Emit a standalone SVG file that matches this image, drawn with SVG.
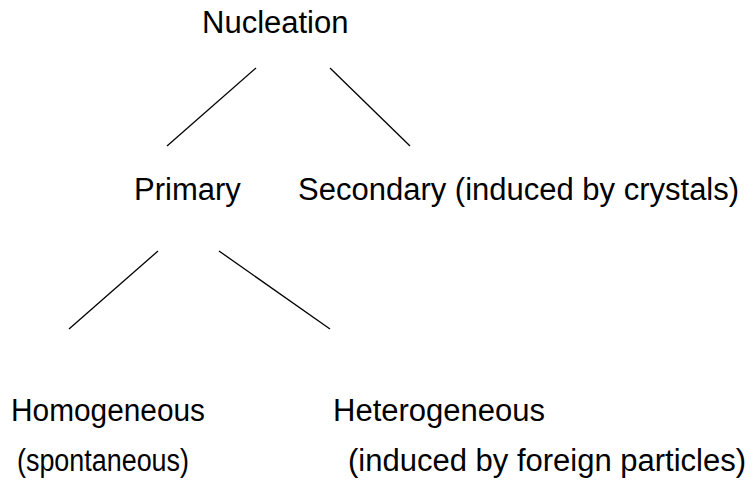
<svg xmlns="http://www.w3.org/2000/svg" width="755" height="482" viewBox="0 0 755 482">
<style>
text{font-family:"Liberation Sans",Arial,sans-serif;font-size:31px;fill:#000}
.c line{stroke:#000;stroke-width:1.3;fill:none}
</style>
<rect width="755" height="482" fill="#fff"/>
<g class="c" id="connectors">
<line x1="256" y1="68" x2="167" y2="146"/>
<line x1="330" y1="68" x2="410" y2="146"/>
<line x1="158" y1="251" x2="69" y2="329"/>
<line x1="219" y1="251" x2="330" y2="329"/>
</g>
<g id="nucleation"><text x="202" y="33">Nucleation</text></g>
<g id="primary"><text x="134" y="200">Primary</text></g>
<g id="secondary"><text x="298" y="200">Secondary (induced by crystals)</text></g>
<g id="homogeneous"><text x="11" y="421" textLength="194" lengthAdjust="spacingAndGlyphs">Homogeneous</text><text x="17" y="471" textLength="172" lengthAdjust="spacingAndGlyphs">(spontaneous)</text></g>
<g id="heterogeneous"><text x="333" y="421">Heterogeneous</text><text x="348" y="471">(induced by foreign particles)</text></g>
</svg>
